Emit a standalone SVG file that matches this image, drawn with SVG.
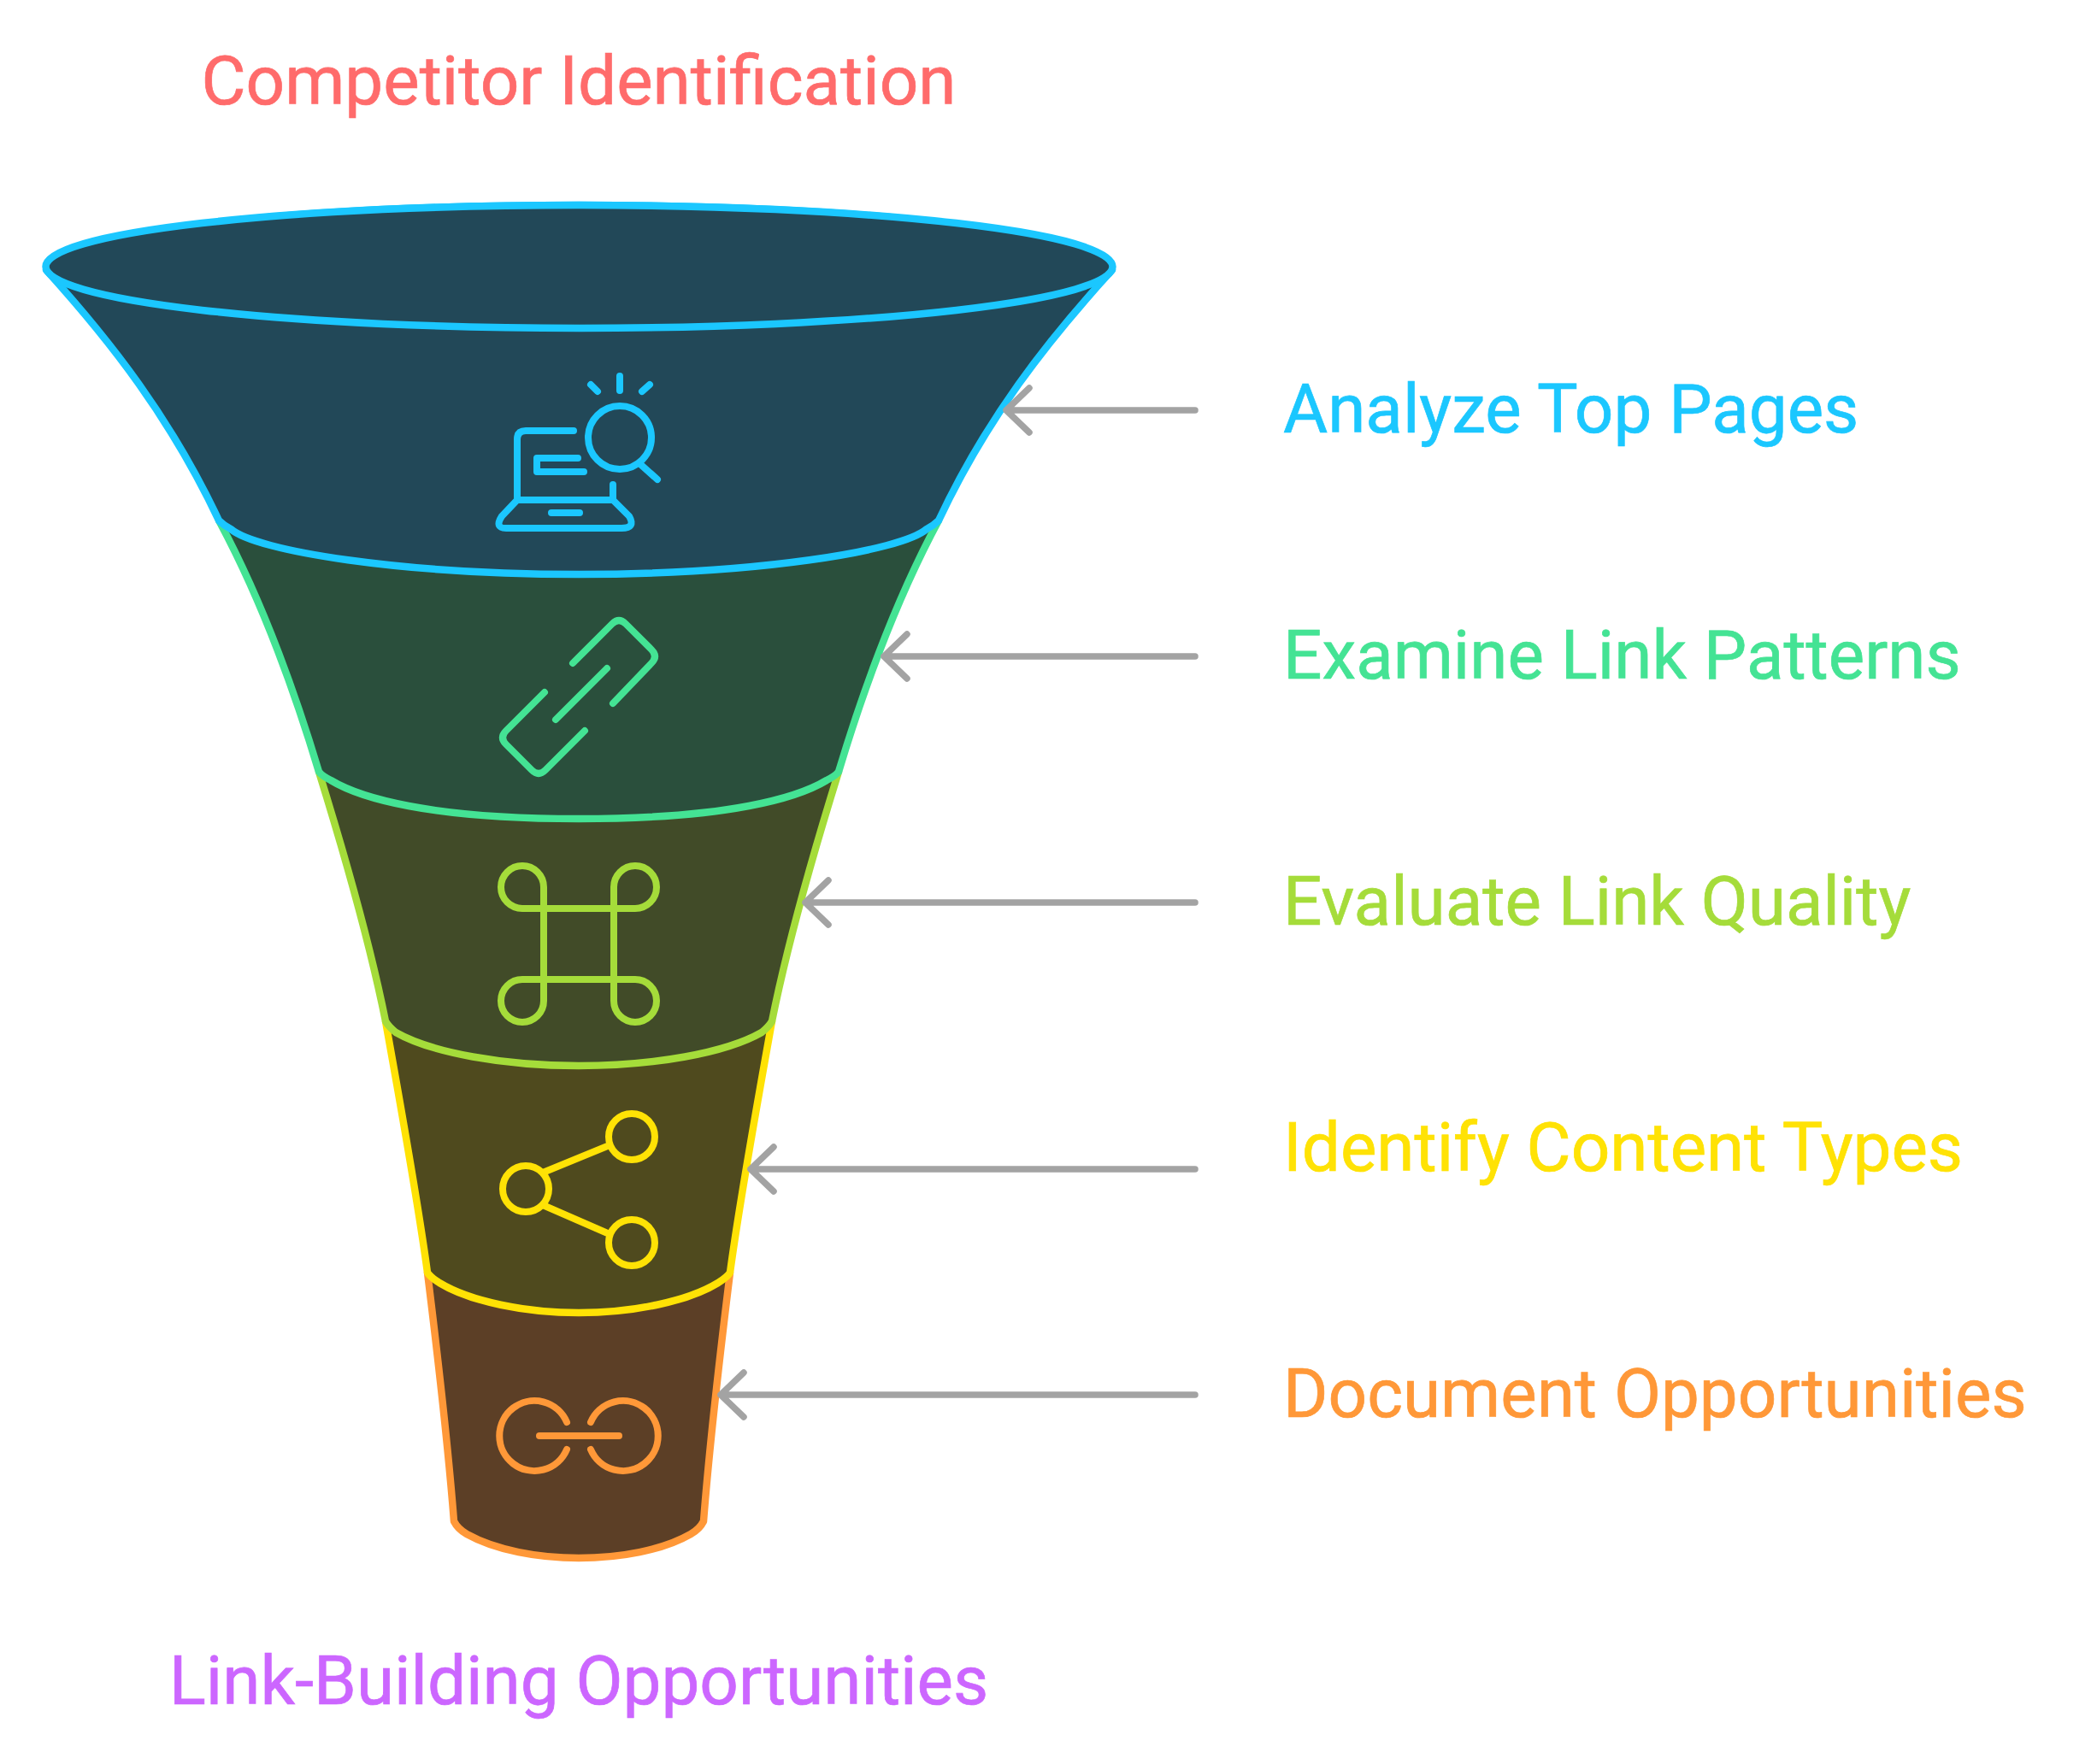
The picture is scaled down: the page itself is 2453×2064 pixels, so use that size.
<svg xmlns="http://www.w3.org/2000/svg" width="2453" height="2064" viewBox="0 0 2453 2064">
<style>
text{font-family:Roboto,"Liberation Sans",sans-serif;font-size:80px;stroke-width:.7}
.c{text-anchor:middle}
.s{stroke-width:8.5;stroke-linecap:round;stroke-linejoin:round}
.i{fill:none;stroke-width:8;stroke-linecap:round;stroke-linejoin:round}
.a{fill:none;stroke:#a3a3a3;stroke-width:7.5;stroke-linecap:round;stroke-linejoin:round}
</style>
<rect width="2453" height="2064" fill="#ffffff"/>
<g id="seg5">
<path class="s" d="M500 1489C510 1570 524 1690 531 1780C534 1786 539 1791 546 1795C580 1814 630 1823 677 1823C725 1823 775 1814 808 1795C815 1791 820 1786 823 1780C830 1690 844 1570 854 1489Z" fill="#5c3f26" stroke="#ff9838"/>
<g class="i" stroke="#ff9838"><path d="M663 1664A41 41 0 1 0 663 1696"/><path d="M691 1664A41 41 0 1 1 691 1696"/><path d="M631 1680H724"/></g>
</g>
<g id="seg4">
<path class="s" d="M451 1195C468 1290 488 1400 500 1489C503 1494 508 1497 514 1501C550 1523 615 1536 677 1536C740 1536 804 1523 840 1501C846 1497 851 1494 854 1489C866 1400 886 1290 903 1195Z" fill="#4f4a1e" stroke="#ffe205"/>
<g class="i" stroke="#ffe205"><circle cx="615" cy="1391" r="27"/><circle cx="739" cy="1330" r="27"/><circle cx="739" cy="1454" r="27"/><path d="M635 1372L713 1340M635 1410L713 1444"/></g>
</g>
<g id="seg3">
<path class="s" d="M373 903C400 990 432 1100 451 1195C454 1200 458 1204 463 1208C505 1232 590 1247 677 1247C765 1247 849 1232 891 1208C896 1204 900 1200 903 1195C922 1100 954 990 981 903Z" fill="#414b28" stroke="#a5dc3a"/>
<g class="i" stroke="#a5dc3a"><path d="M636 1038A25 25 0 1 0 611 1063H743A25 25 0 1 0 718 1038V1171A25 25 0 1 0 743 1146H611A25 25 0 1 0 636 1171Z"/></g>
</g>
<g id="seg2">
<path class="s" d="M256 609C305 700 345 810 373 903C376 907 381 910 387 913C420 933 500 958 677 958C854 958 934 933 967 913C973 910 978 907 981 903C1009 810 1049 700 1098 609Z" fill="#2a4f3c" stroke="#44e394"/>
<g class="i" stroke="#44e394"><path d="M670 776L716 730Q724 722 732 730L762 760Q770 768 762 776L717 823"/><path d="M650 842L710 782"/><path d="M637 810L592 855Q584 863 592 871L622 901Q630 909 638 901L684 855"/></g>
</g>
<g id="seg1">
<path class="s" d="M54 316C130 400 200 490 256 609C260 613 264 616 270 619C300 645 470 672 677 672C884 672 1054 645 1084 619C1090 616 1094 613 1098 609C1154 490 1224 400 1301 316C1290 270 1000 240 677 240C355 240 65 270 54 316Z" fill="#224858" stroke="#1bc7ff"/>
<ellipse class="s" cx="677.5" cy="312" rx="624" ry="72" fill="#224858" stroke="#1bc7ff"/>
<g class="i" stroke="#1bc7ff"><path d="M671 504H615Q605 504 605 514V585"/><path d="M676 536H628V552H683"/><path d="M717 567V585H605L587 604Q578 618 592 618H727Q744 618 736 604L717 585"/><path d="M645 600H678"/><circle cx="725" cy="512" r="37"/><path d="M750 544L769 561"/><path d="M725 440V457M691 450L699 458M760 450L751 458"/></g>
</g>
<g id="connectors">
<path class="a" d="M1398 480H1177M1204 454L1177 480L1204 506"/>
<path class="a" d="M1398 768H1034M1061 742L1034 768L1061 794"/>
<path class="a" d="M1398 1056H942M969 1030L942 1056L969 1082"/>
<path class="a" d="M1398 1368H878M905 1342L878 1368L905 1394"/>
<path class="a" d="M1398 1632H843M870 1606L843 1632L870 1658"/>
</g>
<g id="title-top"><text class="c" x="677" y="122" fill="#ff6b6b" stroke="#ff6b6b">Competitor Identification</text></g>
<g id="title-bottom"><text class="c" x="677" y="1994" fill="#cc66ff" stroke="#cc66ff">Link-Building Opportunities</text></g>
<g id="label1"><text x="1501" y="506" fill="#1bc7ff" stroke="#1bc7ff">Analyze Top Pages</text></g>
<g id="label2"><text x="1501" y="794" fill="#44e394" stroke="#44e394">Examine Link Patterns</text></g>
<g id="label3"><text x="1501" y="1082" fill="#a5dc3a" stroke="#a5dc3a">Evaluate Link Quality</text></g>
<g id="label4"><text x="1501" y="1370" fill="#ffe205" stroke="#ffe205">Identify Content Types</text></g>
<g id="label5"><text x="1501" y="1658" fill="#ff9838" stroke="#ff9838">Document Opportunities</text></g>
</svg>
